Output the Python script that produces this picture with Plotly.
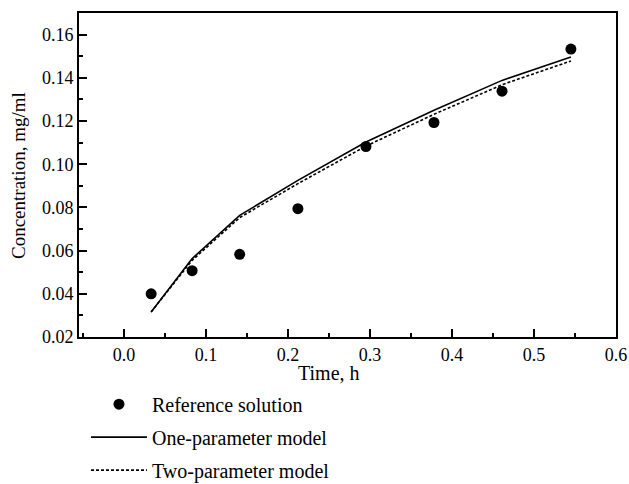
import plotly.graph_objects as go

# Data
time_h = [0.033, 0.083, 0.141, 0.212, 0.295, 0.378, 0.461, 0.545]
reference_solution = [0.0400, 0.0507, 0.0583, 0.0794, 0.1082, 0.1193, 0.1338, 0.1533]
one_parameter = [0.0316, 0.0563, 0.0763, 0.0925, 0.1103, 0.1250, 0.1388, 0.1496]
two_parameter = [0.0316, 0.0555, 0.0753, 0.0910, 0.1084, 0.1231, 0.1368, 0.1478]

x_ticks = [0.0, 0.1, 0.2, 0.3, 0.4, 0.5, 0.6]
x_labels = ["0.0", "0.1", "0.2", "0.3", "0.4", "0.5", "0.6"]
y_ticks = [0.02, 0.04, 0.06, 0.08, 0.10, 0.12, 0.14, 0.16]
y_labels = ["0.02", "0.04", "0.06", "0.08", "0.10", "0.12", "0.14", "0.16"]

FONT = "Liberation Serif"

fig = go.Figure()
fig.add_trace(go.Scatter(
    x=time_h, y=reference_solution, mode="markers", name="Reference solution",
    marker=dict(color="black", size=11, symbol="circle"), legendgroup="a"))
fig.add_trace(go.Scatter(
    x=time_h, y=one_parameter, mode="lines", name="One-parameter model",
    line=dict(color="black", width=1.6), legendgroup="b"))
fig.add_trace(go.Scatter(
    x=time_h, y=two_parameter, mode="lines", name="Two-parameter model",
    line=dict(color="black", width=1.6, dash="3px,2px"), legendgroup="c"))

fig.update_layout(
    width=629, height=484,
    margin=dict(l=79, r=13, t=13, b=147, autoexpand=False),
    paper_bgcolor="white", plot_bgcolor="white",
    font=dict(family=FONT, color="black", size=18),
    showlegend=True,
    legend=dict(
        x=0.013, y=-0.147, xanchor="left", yanchor="top",
        orientation="v", traceorder="grouped", tracegroupgap=4,
        itemwidth=56, font=dict(family=FONT, size=20, color="black"),
        bgcolor="rgba(0,0,0,0)",
    ),
    xaxis=dict(
        range=[-0.055, 0.6], tickvals=x_ticks, ticktext=x_labels,
        ticks="inside", ticklen=8, tickwidth=1.5, tickcolor="black",
        minor=dict(dtick=0.05, tick0=0, ticks="inside", ticklen=4, tickwidth=1.5, tickcolor="black"),
        showline=True, linecolor="black", linewidth=1.8, mirror=True,
        showgrid=False, zeroline=False,
        tickfont=dict(family=FONT, size=18),
    ),
    yaxis=dict(
        range=[0.02, 0.17], tickvals=y_ticks, ticktext=y_labels,
        ticks="inside", ticklen=8, tickwidth=1.5, tickcolor="black",
        minor=dict(dtick=0.01, tick0=0.02, ticks="inside", ticklen=4, tickwidth=1.5, tickcolor="black"),
        showline=True, linecolor="black", linewidth=1.8, mirror=True,
        showgrid=False, zeroline=False,
        tickfont=dict(family=FONT, size=18),
    ),
    annotations=[
        dict(text="Time, h", xref="paper", yref="paper", x=0.4655, y=-0.11,
             xanchor="center", yanchor="middle", showarrow=False,
             font=dict(family=FONT, size=20, color="black")),
        dict(text="Concentration, mg/ml", xref="paper", yref="paper", x=-0.1136, y=0.5,
             xanchor="center", yanchor="middle", showarrow=False, textangle=-90,
             font=dict(family=FONT, size=19, color="black")),
    ],
)

fig.write_html("out.html", config={"displayModeBar": False},
               post_script="document.body.style.margin='0';")
